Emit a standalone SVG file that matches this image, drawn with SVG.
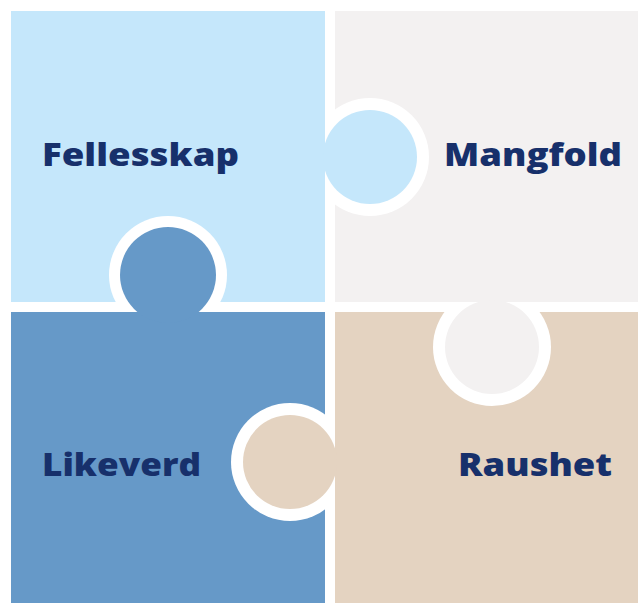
<svg xmlns="http://www.w3.org/2000/svg" width="638" height="603" viewBox="0 0 638 603">
<style>
.lbl{font-family:"Open Sans","Noto Sans","Liberation Sans",sans-serif;font-weight:800;font-size:32px;fill:#17306b}
.ring{fill:#ffffff}
</style>
<defs>
<clipPath id="cA"><rect x="325" y="0" width="313" height="302"/></clipPath>
<clipPath id="cB"><rect x="0" y="0" width="325" height="312"/></clipPath>
<clipPath id="cC"><rect x="335" y="302" width="303" height="301"/></clipPath>
<clipPath id="cD"><rect x="0" y="312" width="335" height="291"/></clipPath>
</defs>
<rect x="0" y="0" width="638" height="603" fill="#ffffff"/>
<g id="fellesskap">
<rect x="11" y="11" width="314" height="291" fill="#c5e7fb"/>
<text class="lbl" x="42" y="166" textLength="197" lengthAdjust="spacingAndGlyphs">Fellesskap</text>
</g>
<g id="mangfold">
<rect x="335" y="11" width="303" height="291" fill="#f3f1f1"/>
<text class="lbl" x="444" y="166" textLength="178" lengthAdjust="spacingAndGlyphs">Mangfold</text>
</g>
<g id="likeverd">
<rect x="11" y="312" width="314" height="291" fill="#6699c8"/>
<text class="lbl" x="42" y="476" textLength="159" lengthAdjust="spacingAndGlyphs">Likeverd</text>
</g>
<g id="raushet">
<rect x="335" y="312" width="303" height="291" fill="#e4d3c1"/>
<text class="lbl" x="458" y="476" textLength="154" lengthAdjust="spacingAndGlyphs">Raushet</text>
</g>
<g id="knob-fellesskap">
<circle class="ring" cx="370" cy="157" r="59" clip-path="url(#cA)"/>
<circle cx="370" cy="157" r="47" fill="#c5e7fb"/>
</g>
<g id="knob-likeverd">
<circle class="ring" cx="168" cy="275" r="59" clip-path="url(#cB)"/>
<circle cx="168" cy="275" r="48" fill="#6699c8"/>
</g>
<g id="knob-mangfold">
<circle class="ring" cx="492" cy="347" r="59" clip-path="url(#cC)"/>
<circle cx="492" cy="347" r="47" fill="#f3f1f1"/>
</g>
<g id="knob-raushet">
<circle class="ring" cx="290" cy="462" r="59" clip-path="url(#cD)"/>
<circle cx="290" cy="462" r="47" fill="#e4d3c1"/>
</g>
</svg>
